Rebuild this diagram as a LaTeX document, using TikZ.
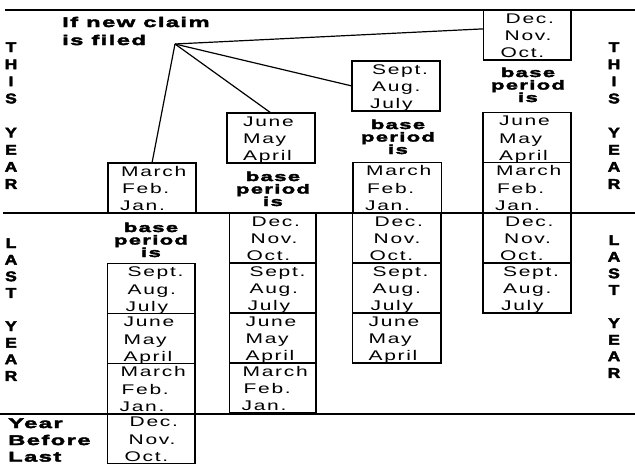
\documentclass[tikz,border=0pt]{standalone}
\usepackage{fontspec}
\setmainfont{Liberation Sans}
\newfontfamily\mfont[FakeStretch=1.5,LetterSpace=12]{Liberation Sans}
\newfontfamily\bfont[FakeStretch=1.7,LetterSpace=10,FakeBold=3]{Liberation Sans Bold}
\newfontfamily\sfont[FakeStretch=1.25,FakeBold=3]{Liberation Sans Bold}
\usetikzlibrary{calc}
\tikzset{
  qb/.style={draw, line width=1.2pt, minimum height=50pt, inner sep=0pt, outer sep=0pt, anchor=north west},
  mtext/.style={font=\mfont\fontsize{14}{17}\selectfont, inner sep=0pt, anchor=base west},
  btext/.style={font=\bfont\fontsize{13}{15}\selectfont, inner sep=0pt, anchor=base},
  ttext/.style={font=\bfont\fontsize{14}{17}\selectfont, inner sep=0pt, anchor=base west},
  side/.style={font=\sfont\fontsize{14}{17}\selectfont, inner sep=0pt, anchor=base},
  divider/.style={line width=2pt},
  conn/.style={line width=1.2pt},
}
\newcommand\qline[5]{\node[mtext] (#1l#2) at ($(#1.north west)+(#3,#4)$) {#5};}
\newcommand\qbox[5]{%
  \node[qb, minimum width=#5pt] (#1) at (#2,#3) {};
  \ifcase#4\or
    \qline{#1}{1}{13}{13}{March}\qline{#1}{2}{14}{30.5}{Feb.}\qline{#1}{3}{12}{47.5}{Jan.}%
  \or
    \qline{#1}{1}{16}{13}{June}\qline{#1}{2}{16}{30.5}{May}\qline{#1}{3}{16}{47.5}{April}%
  \or
    \qline{#1}{1}{20}{13}{Sept.}\qline{#1}{2}{20}{30.5}{Aug.}\qline{#1}{3}{18}{47.5}{July}%
  \or
    \qline{#1}{1}{22}{13}{Dec.}\qline{#1}{2}{21}{30.5}{Nov.}\qline{#1}{3}{17}{47.5}{Oct.}%
  \fi}
\newcommand\bpi[3]{%
  \node[btext] (#1a) at (#2,#3) {base};
  \node[btext] (#1b) at (#2,#3+12.5) {period};
  \node[btext] (#1c) at (#2,#3+25) {is};}
\begin{document}
\begin{tikzpicture}[x=1pt,y=-1pt]
\useasboundingbox (0,0) rectangle (635,464);
% dividers
\draw[divider] (5,10) -- (635,10);
\draw[divider] (3,212.5) -- (635,212.5);
\draw[divider] (0,413.5) -- (635,413.5);
% title
\node[ttext] (title1) at (62,27) {If new claim};
\node[ttext] (title2) at (62,45) {is filed};
\coordinate (apex) at (175,44);
% column 1
\qbox{b1a}{108}{163}{1}{88}
\qbox{b1b}{107.5}{263.5}{3}{87.5}
\qbox{b1c}{107.5}{313.5}{2}{87.5}
\qbox{b1d}{107.5}{363.5}{1}{87.5}
\qbox{b1e}{107.5}{413.5}{4}{87.5}
% column 2
\qbox{b2a}{227}{113}{2}{88}
\qbox{b2b}{229.5}{213}{4}{86.5}
\qbox{b2c}{229.5}{263}{3}{86.5}
\qbox{b2d}{229.5}{313}{2}{86.5}
\qbox{b2e}{229.5}{363}{1}{86.5}
% column 3
\qbox{b3a}{352}{61}{3}{88}
\qbox{b3b}{353}{162.5}{1}{88.5}
\qbox{b3c}{352.5}{213}{4}{88.5}
\qbox{b3d}{352.5}{263}{3}{88.5}
\qbox{b3e}{352.5}{313}{2}{88.5}
% column 4
\qbox{b4a}{483.5}{10}{4}{87.5}
\qbox{b4b}{483}{112.5}{2}{88}
\qbox{b4c}{483}{162.5}{1}{88}
\qbox{b4d}{483}{213}{4}{88}
\qbox{b4e}{483}{263}{3}{88}
% base period is
\bpi{bpa}{151}{232}
\bpi{bpb}{273}{181}
\bpi{bpc}{398}{129}
\bpi{bpd}{528}{77}
% connectors
\draw[conn] (apex) -- (b1a.north);
\draw[conn] (apex) -- (b2a.north);
\draw[conn] (apex) -- (b3a.west);
\draw[conn] (apex) -- (b4a.172);
% side labels
\foreach \l/\k [count=\i] in {T/0,H/1,I/2,S/3,Y/5,E/6,A/7,R/8} {
  \node[side] (tyl\i) at (11, 52+17.1*\k) {\l};
  \node[side] (tyr\i) at (614, 52+17.1*\k) {\l};
}
\foreach \l/\k [count=\i] in {L/0,A/1,S/2,T/3,Y/5,E/6,A/7,R/8} {
  \node[side] (lyl\i) at (11, 248+16.6*\k) {\l};
  \node[side] (lyr\i) at (614, 245+16.6*\k) {\l};
}
% year before last
\node[ttext] (ybl1) at (8,428) {Year};
\node[ttext] (ybl2) at (8,445) {Before};
\node[ttext] (ybl3) at (8,461.5) {Last};
\end{tikzpicture}
\end{document}
